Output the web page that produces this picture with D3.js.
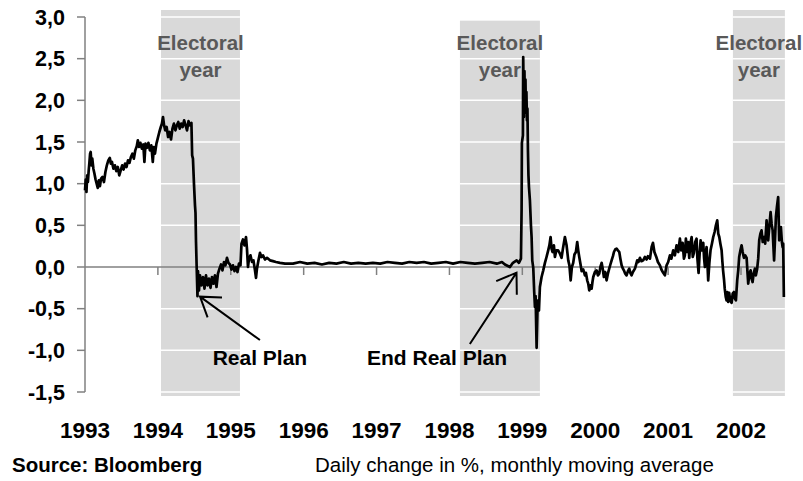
<!DOCTYPE html>
<html><head><meta charset="utf-8">
<script src="https://cdn.jsdelivr.net/npm/d3@7"></script>
<style>body{margin:0;background:#fff}svg{display:block}</style>
</head><body>
<svg id="chart" width="803" height="481"></svg>
<script>
// ---- data ----
const yearTicks = [1993, 1994, 1995, 1996, 1997, 1998, 1999, 2000, 2001, 2002];
const valueTicks = [3.0, 2.5, 2.0, 1.5, 1.0, 0.5, 0.0, -0.5, -1.0, -1.5];
const electoralStart = [1994.043, 1998.144, 2001.889];
const electoralEnd = [1995.126, 1999.241, 2002.602];
const electoralTop = [3.084, 2.956, 3.084];
const electoralBottom = -1.548;
const electoralLabel = ["Electoral", "year"];
const annotationText = ["Real Plan", "End Real Plan"];
const annotationTextPos = [[1995.40, -1.18], [1997.83, -1.18]];
const arrowTip = [[1994.578, -0.356], [1998.920, -0.068]];
const arrowTail = [[1995.400, -0.876], [1998.280, -0.924]];
const axisEnd = 2002.602;
const sourceText = "Source: Bloomberg";
const noteText = "Daily change in %, monthly moving average";

// daily change (%), monthly moving average: [year, value]
const series = [
[1993.000,0.92],[1993.010,1.05],[1993.020,0.90],[1993.030,1.10],[1993.040,1.02],[1993.050,1.15],
[1993.060,1.25],[1993.070,1.36],[1993.078,1.38],[1993.090,1.22],[1993.100,1.30],[1993.115,1.18],
[1993.130,1.12],[1993.145,1.05],[1993.160,1.00],[1993.175,0.95],[1993.190,1.04],[1993.205,0.97],
[1993.220,1.06],[1993.240,1.08],[1993.260,1.02],[1993.280,1.14],[1993.300,1.22],[1993.320,1.28],
[1993.340,1.31],[1993.355,1.24],[1993.370,1.26],[1993.390,1.18],[1993.410,1.22],[1993.430,1.15],
[1993.450,1.20],[1993.470,1.10],[1993.490,1.16],[1993.510,1.22],[1993.530,1.17],[1993.550,1.24],
[1993.570,1.20],[1993.590,1.28],[1993.610,1.25],[1993.630,1.32],[1993.650,1.36],[1993.670,1.30],
[1993.690,1.40],[1993.710,1.45],[1993.725,1.52],[1993.740,1.44],[1993.760,1.49],[1993.780,1.42],
[1993.800,1.47],[1993.815,1.26],[1993.830,1.48],[1993.850,1.43],[1993.870,1.49],[1993.890,1.40],
[1993.910,1.46],[1993.930,1.26],[1993.945,1.44],[1993.960,1.36],[1993.980,1.48],[1994.000,1.55],
[1994.020,1.62],[1994.040,1.68],[1994.055,1.72],[1994.070,1.80],[1994.085,1.70],[1994.100,1.64],
[1994.120,1.68],[1994.140,1.56],[1994.160,1.62],[1994.180,1.53],[1994.200,1.66],[1994.220,1.72],
[1994.240,1.64],[1994.260,1.70],[1994.280,1.74],[1994.300,1.66],[1994.320,1.72],[1994.340,1.68],
[1994.360,1.76],[1994.380,1.70],[1994.400,1.64],[1994.420,1.75],[1994.440,1.70],[1994.460,1.73],
[1994.470,1.34],[1994.481,1.30],[1994.495,1.00],[1994.509,0.74],[1994.516,0.65],[1994.523,0.30],
[1994.532,0.00],[1994.543,-0.35],[1994.550,-0.05],[1994.564,-0.28],[1994.578,-0.10],[1994.598,-0.22],
[1994.619,-0.12],[1994.639,-0.26],[1994.660,-0.10],[1994.680,-0.22],[1994.701,-0.14],[1994.722,-0.25],
[1994.742,-0.12],[1994.763,-0.20],[1994.783,-0.10],[1994.804,-0.24],[1994.824,-0.08],[1994.845,-0.02],
[1994.866,0.03],[1994.886,-0.04],[1994.907,0.06],[1994.927,0.02],[1994.948,0.11],[1994.968,0.05],
[1994.989,0.03],[1995.010,-0.03],[1995.030,0.02],[1995.051,-0.05],[1995.071,0.00],[1995.092,-0.06],
[1995.112,0.04],[1995.133,0.02],[1995.147,0.28],[1995.167,0.33],[1995.188,0.26],[1995.209,0.36],
[1995.222,0.22],[1995.236,0.00],[1995.250,0.10],[1995.270,0.14],[1995.291,0.06],[1995.311,0.08],
[1995.332,-0.04],[1995.346,-0.13],[1995.359,-0.02],[1995.380,0.08],[1995.401,0.17],[1995.421,0.12],
[1995.442,0.14],[1995.469,0.09],[1995.497,0.11],[1995.538,0.08],[1995.579,0.07],[1995.620,0.06],
[1995.675,0.05],[1995.744,0.04],[1995.853,0.04],[1995.950,0.06],[1996.050,0.04],[1996.150,0.05],
[1996.250,0.03],[1996.350,0.05],[1996.450,0.04],[1996.550,0.06],[1996.650,0.04],[1996.750,0.05],
[1996.850,0.04],[1996.950,0.05],[1997.050,0.04],[1997.150,0.06],[1997.250,0.05],[1997.350,0.04],
[1997.450,0.06],[1997.550,0.05],[1997.650,0.06],[1997.750,0.04],[1997.850,0.05],[1997.950,0.06],
[1998.050,0.04],[1998.150,0.06],[1998.250,0.05],[1998.350,0.04],[1998.450,0.05],[1998.550,0.06],
[1998.650,0.04],[1998.720,0.06],[1998.761,0.03],[1998.830,0.00],[1998.871,0.05],[1998.922,0.08],
[1998.953,0.05],[1998.981,0.10],[1998.990,0.70],[1998.994,1.49],[1999.008,1.58],[1999.012,2.52],
[1999.022,1.80],[1999.029,2.35],[1999.036,1.90],[1999.043,2.25],[1999.049,1.85],[1999.056,2.10],
[1999.063,1.76],[1999.070,1.90],[1999.077,1.40],[1999.084,1.10],[1999.091,0.96],[1999.104,0.80],
[1999.118,0.50],[1999.127,0.36],[1999.136,0.08],[1999.150,-0.01],[1999.163,-0.30],[1999.173,-0.48],
[1999.182,-0.35],[1999.196,-0.97],[1999.207,-0.55],[1999.218,-0.40],[1999.228,-0.52],[1999.241,-0.24],
[1999.264,-0.12],[1999.287,-0.04],[1999.310,0.05],[1999.332,0.12],[1999.355,0.20],[1999.371,0.26],
[1999.388,0.36],[1999.401,0.22],[1999.414,0.18],[1999.433,0.26],[1999.447,0.12],[1999.467,0.20],
[1999.491,0.20],[1999.516,0.16],[1999.538,0.11],[1999.557,0.22],[1999.584,0.36],[1999.607,0.26],
[1999.630,0.08],[1999.646,0.02],[1999.663,-0.16],[1999.680,0.00],[1999.698,0.05],[1999.715,0.15],
[1999.735,0.18],[1999.753,0.30],[1999.767,0.20],[1999.781,0.12],[1999.797,0.04],[1999.814,-0.05],
[1999.836,-0.03],[1999.859,-0.10],[1999.872,-0.07],[1999.890,-0.16],[1999.904,-0.20],[1999.918,-0.28],
[1999.934,-0.22],[1999.951,-0.26],[1999.962,-0.18],[1999.973,-0.12],[1999.996,-0.06],[2000.019,-0.04],
[2000.037,-0.10],[2000.055,-0.08],[2000.071,0.00],[2000.088,0.05],[2000.106,-0.04],[2000.119,-0.12],
[2000.137,-0.06],[2000.156,-0.16],[2000.174,-0.08],[2000.192,-0.02],[2000.208,0.03],[2000.225,0.08],
[2000.243,0.13],[2000.257,0.18],[2000.274,0.21],[2000.293,0.22],[2000.311,0.20],[2000.330,0.18],
[2000.345,0.10],[2000.362,0.02],[2000.380,-0.02],[2000.393,-0.04],[2000.412,-0.08],[2000.430,-0.10],
[2000.449,-0.05],[2000.467,-0.02],[2000.482,-0.07],[2000.499,-0.10],[2000.517,-0.06],[2000.545,-0.02],
[2000.558,0.02],[2000.576,0.08],[2000.593,0.06],[2000.613,0.11],[2000.634,0.07],[2000.658,0.08],
[2000.682,0.12],[2000.705,0.09],[2000.723,0.13],[2000.751,0.10],[2000.774,0.24],[2000.792,0.29],
[2000.812,0.18],[2000.842,0.11],[2000.860,0.06],[2000.888,0.02],[2000.908,-0.03],[2000.933,-0.07],
[2000.956,-0.10],[2000.979,0.02],[2001.001,0.06],[2001.025,0.14],[2001.045,0.10],[2001.070,0.20],
[2001.093,0.14],[2001.116,0.26],[2001.139,0.18],[2001.162,0.34],[2001.180,0.20],[2001.199,0.29],
[2001.217,0.10],[2001.230,0.14],[2001.244,0.34],[2001.262,0.18],[2001.276,0.30],[2001.290,0.11],
[2001.305,0.28],[2001.323,0.36],[2001.338,0.12],[2001.354,0.17],[2001.372,0.30],[2001.390,0.34],
[2001.402,0.10],[2001.418,-0.07],[2001.432,0.15],[2001.446,0.32],[2001.464,0.20],[2001.482,0.29],
[2001.494,0.10],[2001.505,0.00],[2001.519,0.18],[2001.528,0.24],[2001.539,0.05],[2001.550,-0.16],
[2001.566,0.05],[2001.582,0.20],[2001.601,0.28],[2001.619,0.36],[2001.638,0.42],[2001.656,0.50],
[2001.674,0.56],[2001.688,0.40],[2001.702,0.36],[2001.717,0.28],[2001.734,0.20],[2001.745,0.06],
[2001.754,-0.04],[2001.767,-0.15],[2001.777,-0.26],[2001.791,-0.36],[2001.802,-0.40],[2001.813,-0.30],
[2001.824,-0.42],[2001.838,-0.31],[2001.852,-0.40],[2001.871,-0.43],[2001.886,-0.32],[2001.903,-0.30],
[2001.916,-0.38],[2001.930,-0.40],[2001.948,-0.16],[2001.962,-0.04],[2001.975,0.12],[2001.992,0.20],
[2002.008,0.26],[2002.023,0.18],[2002.040,0.11],[2002.058,0.14],[2002.077,0.11],[2002.088,-0.05],
[2002.099,-0.20],[2002.116,-0.08],[2002.132,-0.04],[2002.145,-0.14],[2002.159,-0.18],[2002.173,-0.08],
[2002.191,-0.02],[2002.204,-0.10],[2002.222,-0.02],[2002.236,0.10],[2002.250,0.32],[2002.266,0.40],
[2002.282,0.44],[2002.298,0.30],[2002.314,0.36],[2002.332,0.28],[2002.351,0.56],[2002.362,0.40],
[2002.373,0.32],[2002.390,0.50],[2002.406,0.66],[2002.420,0.52],[2002.434,0.44],[2002.445,0.24],
[2002.454,0.08],[2002.465,0.30],[2002.479,0.60],[2002.493,0.72],[2002.510,0.84],[2002.524,0.32],
[2002.537,0.40],[2002.547,0.48],[2002.561,0.30],[2002.571,0.24],[2002.579,0.28],[2002.588,-0.36]
];

// ---- drawing ----
const FONT = "'Liberation Sans', Arial, Helvetica, sans-serif";
const svg = d3.select("#chart");
const x = d3.scaleLinear().domain([1993, 2002]).range([85, 741]);
const y = d3.scaleLinear().domain([-1.5, 3]).range([392, 17]);
const loc = d3.formatLocale({decimal: ",", thousands: ".", grouping: [3], currency: ["", ""], minus: "-"});
const fmt = loc.format(".1f");

// electoral-year shading
const bands = electoralStart.map((s, i) => ({s, e: electoralEnd[i], top: electoralTop[i]}));
svg.append("g").selectAll("rect").data(bands).join("rect")
  .attr("x", d => x(d.s)).attr("width", d => x(d.e) - x(d.s))
  .attr("y", d => y(d.top)).attr("height", d => y(electoralBottom) - y(d.top))
  .attr("fill", "#d9d9d9");

// white gridlines (visible only over shading)
const grid = svg.append("g");
bands.forEach(b => {
  grid.selectAll(null).data(valueTicks.filter(v => v !== 0 && v <= b.top)).join("line")
    .attr("x1", x(b.s)).attr("x2", x(b.e))
    .attr("y1", d => y(d)).attr("y2", d => y(d))
    .attr("stroke", "#ffffff").attr("stroke-width", 1.5);
});

// electoral labels
const lab = svg.append("g").attr("font-family", FONT).attr("font-weight", "bold")
  .attr("font-size", 20.5).attr("fill", "#595959").attr("text-anchor", "middle");
bands.forEach(b => {
  const cx = (x(b.s) + x(b.e)) / 2;
  lab.append("text").attr("x", cx).attr("y", 49.5).text(electoralLabel[0]);
  lab.append("text").attr("x", cx).attr("y", 77).text(electoralLabel[1]);
});

// y axis
const yAxis = svg.append("g");
yAxis.append("line").attr("x1", x(1993)).attr("x2", x(1993))
  .attr("y1", y(3)).attr("y2", y(-1.5)).attr("stroke", "#808080").attr("stroke-width", 1.5);
yAxis.selectAll("line.t").data(valueTicks).join("line").attr("class", "t")
  .attr("x1", x(1993) - 8).attr("x2", x(1993))
  .attr("y1", d => y(d)).attr("y2", d => y(d)).attr("stroke", "#808080").attr("stroke-width", 1.5);
yAxis.selectAll("text").data(valueTicks).join("text")
  .attr("x", 65).attr("y", d => y(d) + 7.5)
  .attr("text-anchor", "end").attr("font-family", FONT).attr("font-weight", "bold")
  .attr("font-size", 21.5).attr("fill", "#000").text(d => fmt(d));

// zero line + year ticks
const xAxis = svg.append("g");
xAxis.append("line").attr("x1", x(1993)).attr("x2", x(axisEnd))
  .attr("y1", y(0)).attr("y2", y(0)).attr("stroke", "#808080").attr("stroke-width", 1.5);
xAxis.selectAll("line.t").data(yearTicks.slice(1)).join("line").attr("class", "t")
  .attr("x1", d => x(d)).attr("x2", d => x(d))
  .attr("y1", y(0)).attr("y2", y(0) + 8).attr("stroke", "#808080").attr("stroke-width", 1.5);
xAxis.selectAll("text").data(yearTicks).join("text")
  .attr("x", d => x(d)).attr("y", 438)
  .attr("text-anchor", "middle").attr("font-family", FONT).attr("font-weight", "bold")
  .attr("font-size", 22.5).attr("fill", "#000").text(d => d);

// series line
svg.append("path").datum(series)
  .attr("d", d3.line().x(d => x(d[0])).y(d => y(d[1])))
  .attr("fill", "none").attr("stroke", "#000").attr("stroke-width", 2.7)
  .attr("stroke-linejoin", "round");

// arrows + annotation labels
const ann = svg.append("g");
arrowTip.forEach((tip, i) => {
  const tx = x(tip[0]), ty = y(tip[1]);
  const sx = x(arrowTail[i][0]), sy = y(arrowTail[i][1]);
  const ang = Math.atan2(sy - ty, sx - tx);
  const L = 22, spread = 34 * Math.PI / 180;
  const p = d3.path();
  p.moveTo(sx, sy); p.lineTo(tx, ty);
  p.moveTo(tx + L * Math.cos(ang - spread), ty + L * Math.sin(ang - spread));
  p.lineTo(tx, ty);
  p.lineTo(tx + L * Math.cos(ang + spread), ty + L * Math.sin(ang + spread));
  ann.append("path").attr("d", p.toString()).attr("fill", "none")
    .attr("stroke", "#000").attr("stroke-width", 2);
  ann.append("text").attr("x", x(annotationTextPos[i][0])).attr("y", y(annotationTextPos[i][1]))
    .attr("text-anchor", "middle").attr("font-family", FONT).attr("font-weight", "bold")
    .attr("font-size", 21).attr("fill", "#000").text(annotationText[i]);
});

// footer
svg.append("text").attr("x", 12).attr("y", 472).attr("font-family", FONT)
  .attr("font-weight", "bold").attr("font-size", 20.5).attr("fill", "#000").text(sourceText);
svg.append("text").attr("x", 315).attr("y", 472).attr("font-family", FONT)
  .attr("font-size", 20.5).attr("fill", "#000").text(noteText);
</script>
</body></html>
